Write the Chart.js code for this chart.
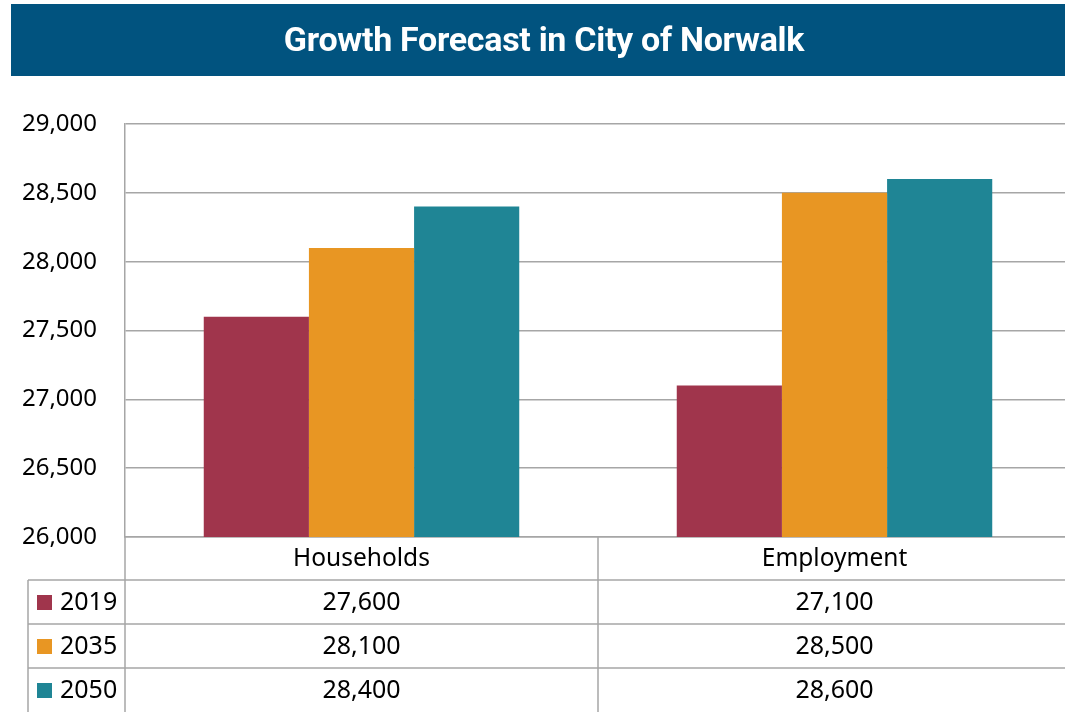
<!DOCTYPE html>
<html>
<head>
<meta charset="utf-8">
<script src="https://cdn.jsdelivr.net/npm/chart.js@4.4.1/dist/chart.umd.min.js"></script>
<style>
  html, body { margin: 0; padding: 0; background: #fff; overflow: hidden; }
  #wrap { width: 1071px; height: 712px; }
</style>
</head>
<body>
<div id="wrap"><canvas id="growthChart"></canvas></div>
<script>
// Chart data
const chartTitle = "Growth Forecast in City of Norwalk";
const categories = ["Households", "Employment"];
const seriesNames = ["2019", "2035", "2050"];
const values2019 = [27600, 27100];
const values2035 = [28100, 28500];
const values2050 = [28400, 28600];
const yTicks = [26000, 26500, 27000, 27500, 28000, 28500, 29000];

const colors = ["#a0354c", "#e89623", "#1f8595"];
const gridColor = "#a6a6a6";
const font = "'Noto Sans', 'Open Sans', sans-serif";

const seriesValues = [values2019, values2035, values2050];
const fmt = v => v.toLocaleString("en-US");

// Banner behind the title
const bannerPlugin = {
    id: "banner",
    beforeDraw(chart) {
        const ctx = chart.ctx;
        ctx.save();
        ctx.fillStyle = "#01537f";
        ctx.fillRect(11, 4, chart.width - 11, 72);
        ctx.fillStyle = "#ffffff";
        ctx.font = "bold 34px Roboto, sans-serif";
        ctx.letterSpacing = "-0.3px";
        ctx.textAlign = "center";
        ctx.textBaseline = "middle";
        ctx.fillText(chartTitle, 544, 42);
        ctx.restore();
    }
};

// Data table under the plot
const tablePlugin = {
    id: "dataTable",
    afterDraw(chart) {
        const ctx = chart.ctx;
        const xs = chart.scales.x;
        const area = chart.chartArea;
        const centers = categories.map((c, i) => xs.getPixelForValue(i));
        const mid = (centers[0] + centers[1]) / 2;
        const top = area.bottom;
        const headerBottom = top + 43;
        const rowH = 44;
        const tableLeft = 28;
        const bottom = chart.height;

        ctx.save();
        ctx.strokeStyle = gridColor;
        ctx.lineWidth = 1.5;
        ctx.beginPath();
        for (let r = 0; r < 3; r++) {
            const y = headerBottom + r * rowH;
            ctx.moveTo(tableLeft, y);
            ctx.lineTo(chart.width, y);
        }
        ctx.moveTo(tableLeft, headerBottom);
        ctx.lineTo(tableLeft, bottom);
        ctx.moveTo(area.left, top);
        ctx.lineTo(area.left, bottom);
        ctx.moveTo(mid, top);
        ctx.lineTo(mid, bottom);
        ctx.stroke();

        ctx.fillStyle = "#000";
        ctx.textBaseline = "middle";
        ctx.textAlign = "center";
        ctx.font = "24.5px " + font;
        categories.forEach((c, i) => ctx.fillText(c, centers[i], (top + headerBottom) / 2 + 1));

        seriesNames.forEach((name, r) => {
            const yc = headerBottom + r * rowH + rowH / 2 + 1;
            ctx.fillStyle = colors[r];
            ctx.fillRect(37, yc - 8, 15, 15);
            ctx.fillStyle = "#000";
            ctx.textAlign = "left";
            ctx.font = "25px " + font;
            ctx.fillText(name, 60, yc);
            ctx.textAlign = "center";
            seriesValues[r].forEach((v, i) => ctx.fillText(fmt(v), centers[i], yc));
        });
        ctx.restore();
    }
};

const ctx = document.getElementById("growthChart").getContext("2d");
new Chart(ctx, {
    type: "bar",
    data: {
        labels: categories,
        datasets: seriesNames.map((name, i) => ({
            label: name,
            data: seriesValues[i],
            backgroundColor: colors[i],
            borderWidth: 0,
            barPercentage: 1,
            categoryPercentage: 0.667
        }))
    },
    options: {
        responsive: true,
        maintainAspectRatio: false,
        animation: false,
        locale: "en-US",
        layout: { padding: { top: 124, left: 0, right: 0, bottom: 0 } },
        plugins: {
            legend: { display: false },
            title: { display: false },
            tooltip: { enabled: false }
        },
        scales: {
            x: {
                ticks: { display: false },
                grid: { display: false },
                border: { display: true, color: gridColor, width: 1.5 },
                afterFit: scale => { scale.height = 175; }
            },
            y: {
                min: yTicks[0],
                max: yTicks[yTicks.length - 1],
                afterBuildTicks: scale => { scale.ticks = yTicks.map(v => ({ value: v })); },
                ticks: {
                    padding: 28,
                    color: "#000",
                    font: { family: font, size: 24 },
                    callback: v => fmt(v)
                },
                grid: { color: gridColor, lineWidth: 1.5, drawTicks: false },
                border: { display: true, color: gridColor, width: 1.5 },
                afterFit: scale => { scale.width = 125; }
            }
        }
    },
    plugins: [bannerPlugin, tablePlugin]
});
</script>
</body>
</html>
